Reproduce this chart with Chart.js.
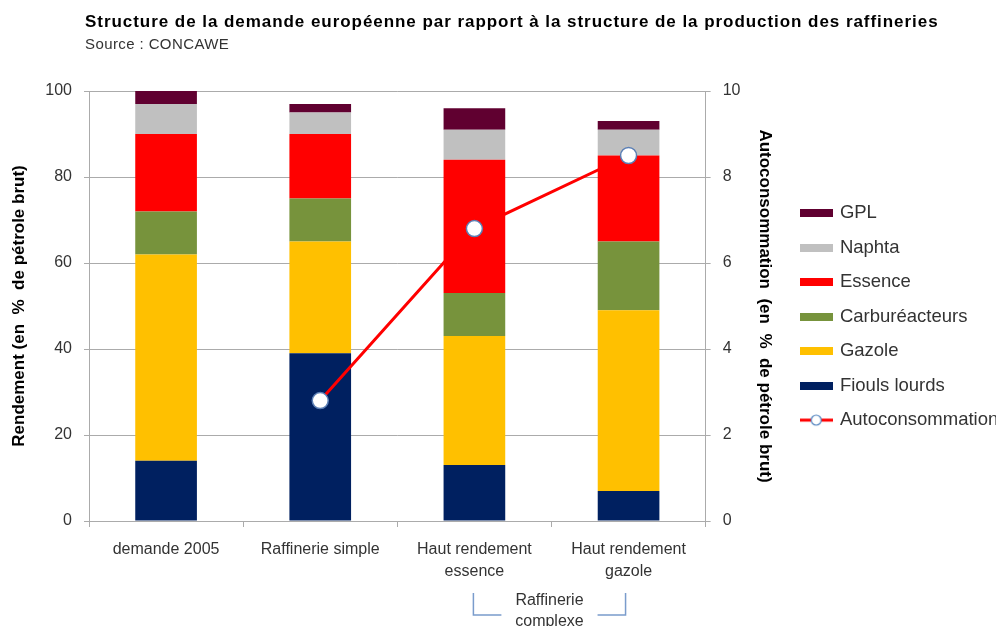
<!DOCTYPE html>
<html>
<head>
<meta charset="utf-8">
<script src="https://cdn.jsdelivr.net/npm/chart.js@4.4.0/dist/chart.umd.min.js"></script>
<style>
  html, body { margin: 0; padding: 0; background: #fff; }
  #wrap { position: relative; width: 996px; height: 626px; font-family: 'Liberation Sans', Arial, sans-serif; }
  #wrap canvas { position: absolute; left: 0; top: 0; }
  #title { position: absolute; left: 85px; top: 12px; font-size: 17px; letter-spacing: 0.95px; font-weight: bold; color: #000; white-space: nowrap; }
  #source { position: absolute; left: 85px; top: 35px; font-size: 15px; letter-spacing: 0.4px; color: #333; }
</style>
</head>
<body>
<div id="wrap">
  <canvas id="chart" width="996" height="626"></canvas>
  <div id="title">Structure de la demande européenne par rapport à la structure de la production des raffineries</div>
  <div id="source">Source : CONCAWE</div>
</div>
<script>
// Data
const categories = ['demande 2005', 'Raffinerie simple', ['Haut rendement', 'essence'], ['Haut rendement', 'gazole']];
const fioulsLourds = [14, 39, 13, 7];
const gazole = [48, 26, 30, 42];
const carbureacteurs = [10, 10, 10, 16];
const essence = [18, 15, 31, 20];
const naphta = [7, 5, 7, 6];
const gpl = [3, 2, 5, 2];
const autoconsommation = [null, 2.8, 6.8, 8.5];
const bracketLabel = ['Raffinerie', 'complexe'];

const FONT = "'Liberation Sans', Arial, sans-serif";
const GRID = '#ababab';
const TEXT = '#333';

const bars = [
    { label: 'Fiouls lourds', data: fioulsLourds, color: '#002060' },
    { label: 'Gazole', data: gazole, color: '#ffc000' },
    { label: 'Carburéacteurs', data: carbureacteurs, color: '#77933c' },
    { label: 'Essence', data: essence, color: '#ff0000' },
    { label: 'Naphta', data: naphta, color: '#c0c0c0' },
    { label: 'GPL', data: gpl, color: '#600030' },
];

// legend swatches
function swatch(color) {
    const c = document.createElement('canvas');
    c.width = 33; c.height = 8;
    const g = c.getContext('2d');
    g.fillStyle = color;
    g.fillRect(0, 0, 33, 8);
    return c;
}
function lineSwatch() {
    const c = document.createElement('canvas');
    c.width = 33; c.height = 14;
    const g = c.getContext('2d');
    g.strokeStyle = '#ff0000'; g.lineWidth = 3;
    g.beginPath(); g.moveTo(0, 7); g.lineTo(33, 7); g.stroke();
    g.fillStyle = '#fff'; g.strokeStyle = '#4f81bd'; g.lineWidth = 1.2;
    g.beginPath(); g.arc(16.5, 7, 5, 0, Math.PI * 2); g.fill(); g.stroke();
    return c;
}

const datasets = bars.map(b => ({
    type: 'bar',
    label: b.label,
    data: b.data,
    backgroundColor: b.color,
    borderWidth: 0,
    yAxisID: 'y',
    stack: 's',
    order: 0,
    barPercentage: 0.4,
    categoryPercentage: 1.0
}));
datasets.push({
    type: 'line', label: 'Autoconsommation', data: autoconsommation, yAxisID: 'y1',
    borderColor: '#ff0000', borderWidth: 3, pointRadius: 0, fill: false, order: -1
});
datasets.push({
    type: 'line', label: 'markers', data: autoconsommation, yAxisID: 'y1', showLine: false,
    pointRadius: 8, pointBackgroundColor: '#fff', pointBorderColor: '#5b7fb5', pointBorderWidth: 1.5, order: -2
});

const swatches = bars.map(b => swatch(b.color)).concat([lineSwatch(), null]);

// bracket under the two complex refinery categories
const bracketPlugin = {
    id: 'bracket',
    afterDraw(chart) {
        const x = chart.scales.x, ctx = chart.ctx, b = chart.chartArea.bottom;
        const x1 = x.getPixelForValue(2) - 1, x2 = x.getPixelForValue(3) - 3;
        const mid = (x1 + x2) / 2;
        ctx.save();
        ctx.strokeStyle = '#7a9ccc'; ctx.lineWidth = 1.5;
        ctx.beginPath();
        ctx.moveTo(x1, b + 72); ctx.lineTo(x1, b + 94); ctx.lineTo(x1 + 28, b + 94);
        ctx.moveTo(x2 - 28, b + 94); ctx.lineTo(x2, b + 94); ctx.lineTo(x2, b + 72);
        ctx.stroke();
        ctx.fillStyle = TEXT;
        ctx.font = '16px ' + FONT;
        ctx.textAlign = 'center'; ctx.textBaseline = 'middle';
        ctx.fillText(bracketLabel[0], mid, b + 80);
        ctx.fillText(bracketLabel[1], mid, b + 101);
        ctx.restore();
    }
};

new Chart(document.getElementById('chart'), {
    data: { labels: categories, datasets },
    plugins: [bracketPlugin],
    options: {
        responsive: false,
        animation: false,
        layout: { padding: { top: 91, bottom: 45, left: 0, right: -12.25 } },
        plugins: {
            tooltip: { enabled: false },
            legend: {
                position: 'right',
                fullSize: false,
                maxWidth: 300,
                title: { display: true, text: ' ', font: { size: 1 }, padding: { top: 20, bottom: 0 } },
                labels: {
                    usePointStyle: true,
                    pointStyleWidth: 29,
                    padding: 16,
                    color: TEXT,
                    font: { family: FONT, size: 18.5 },
                    generateLabels(chart) {
                        const items = Chart.defaults.plugins.legend.labels.generateLabels(chart);
                        items.forEach(it => { it.pointStyle = swatches[it.datasetIndex]; });
                        return items;
                    },
                    filter: (it) => it.datasetIndex !== bars.length + 1,
                    sort: (a, b) => {
                        const rank = i => i === bars.length ? 100 : -i;
                        return rank(a.datasetIndex) - rank(b.datasetIndex);
                    }
                }
            }
        },
        scales: {
            x: {
                stacked: true,
                grid: { offset: true, drawOnChartArea: false, tickLength: 6, color: GRID },
                border: { color: GRID },
                ticks: { color: TEXT, padding: 12, maxRotation: 0, autoSkip: false, font: { family: FONT, size: 16, lineHeight: 1.375 } },
                afterFit: s => { s.height = 60; }
            },
            y: {
                stacked: true, min: 0, max: 100,
                grid: { color: GRID, tickLength: 5 },
                border: { color: GRID },
                ticks: { stepSize: 20, color: TEXT, padding: 12, font: { family: FONT, size: 16 } },
                title: { display: true, text: 'Rendement (en  %  de pétrole brut)', color: '#000', padding: { top: 8.8, bottom: 0 }, font: { family: FONT, size: 17, weight: 'bold' } },
                afterFit: s => { s.width = 89; }
            },
            y1: {
                position: 'right', min: 0, max: 10,
                grid: { drawOnChartArea: false, color: GRID, tickLength: 5 },
                border: { color: GRID },
                ticks: { stepSize: 2, color: TEXT, padding: 12, font: { family: FONT, size: 16 } },
                title: { display: true, text: 'Autoconsommation  (en  %  de pétrole brut)', color: '#000', padding: { top: 10.8, bottom: 0 }, font: { family: FONT, size: 17, weight: 'bold' } },
                afterFit: s => { s.width = 80; }
            }
        }
    }
});
</script>
</body>
</html>
